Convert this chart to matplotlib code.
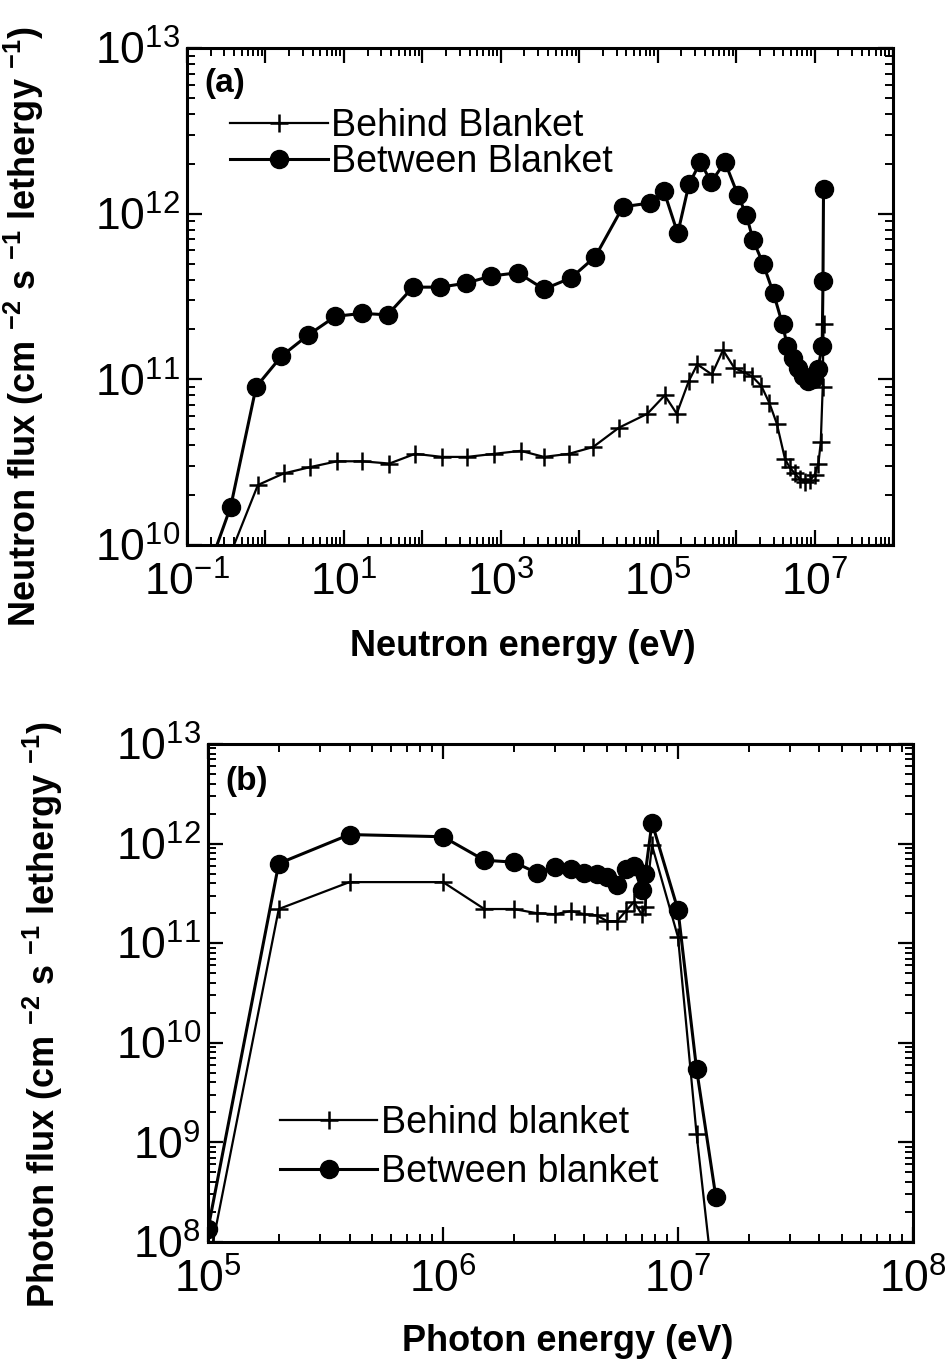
import matplotlib
matplotlib.use('Agg')
import matplotlib.pyplot as plt
from matplotlib.ticker import LogLocator, FixedLocator, FuncFormatter, NullFormatter
import numpy as np

# =========================
# data
# =========================
# (a) neutron spectrum
n_between_x = [0.17, 0.36, 0.76, 1.6, 3.5, 7.8, 17, 36, 76, 170, 355, 750, 1650,
               3550, 7900, 1.6e4, 3.6e4, 8e4, 1.2e5, 1.8e5, 2.5e5, 3.5e5, 4.8e5,
               7.2e5, 1.05e6, 1.35e6, 1.65e6, 2.2e6, 3.0e6, 3.9e6, 4.5e6, 5.3e6,
               6.1e6, 7.1e6, 8.2e6, 9.5e6, 1.1e7, 1.25e7, 1.28e7, 1.3e7]
n_between_y = [6.3e9, 1.7e10, 9.0e10, 1.38e11, 1.85e11, 2.4e11, 2.5e11, 2.45e11,
               3.6e11, 3.6e11, 3.8e11, 4.2e11, 4.4e11, 3.5e11, 4.1e11, 5.5e11,
               1.1e12, 1.16e12, 1.37e12, 7.6e11, 1.5e12, 2.05e12, 1.55e12, 2.05e12,
               1.3e12, 9.8e11, 6.9e11, 5.0e11, 3.3e11, 2.15e11, 1.58e11, 1.35e11,
               1.17e11, 1.04e11, 9.8e10, 1.0e11, 1.15e11, 1.58e11, 3.9e11, 1.4e12]

n_behind_x = [0.36, 0.8, 1.7, 3.7, 8.2, 17, 38, 81, 178, 372, 830, 1800, 3550,
              7400, 1.5e4, 3.2e4, 7.4e4, 1.23e5, 1.75e5, 2.5e5, 3.2e5, 4.9e5,
              6.8e5, 9.5e5, 1.27e6, 1.6e6, 2.1e6, 2.65e6, 3.3e6, 4.2e6, 4.8e6,
              5.6e6, 6.5e6, 7.6e6, 8.7e6, 1.0e7, 1.12e7, 1.2e7, 1.27e7, 1.3e7]
n_behind_y = [8.9e9, 2.3e10, 2.7e10, 2.95e10, 3.2e10, 3.2e10, 3.1e10, 3.55e10,
              3.4e10, 3.4e10, 3.55e10, 3.7e10, 3.4e10, 3.55e10, 3.9e10, 5.1e10,
              6.2e10, 8e10, 6.2e10, 9.8e10, 1.23e11, 1.07e11, 1.5e11, 1.17e11,
              1.1e11, 1.04e11, 9.1e10, 7.2e10, 5.4e10, 3.3e10, 2.95e10, 2.7e10,
              2.5e10, 2.4e10, 2.45e10, 2.65e10, 3.1e10, 4.2e10, 9e10, 2.15e11]

# (b) photon spectrum
p_between_x = [1e5, 2e5, 4e5, 1e6, 1.5e6, 2e6, 2.5e6, 3e6, 3.5e6, 4e6, 4.5e6,
               5e6, 5.5e6, 6e6, 6.5e6, 7e6, 7.25e6, 7.75e6, 1e7, 1.2e7, 1.45e7]
p_between_y = [1.35e8, 6.3e11, 1.23e12, 1.17e12, 6.8e11, 6.5e11, 5.1e11, 5.8e11,
               5.5e11, 5.1e11, 4.9e11, 4.6e11, 3.8e11, 5.5e11, 5.9e11, 3.4e11,
               4.9e11, 1.62e12, 2.15e11, 5.4e9, 2.8e8]

p_behind_x = [1.05e5, 2e5, 4e5, 1e6, 1.5e6, 2e6, 2.5e6, 3e6, 3.5e6, 4e6, 4.5e6,
              5e6, 5.5e6, 6e6, 6.5e6, 7e6, 7.25e6, 7.75e6, 1e7, 1.2e7, 1.45e7]
p_behind_y = [1.0e8, 2.2e11, 4.1e11, 4.1e11, 2.2e11, 2.2e11, 2.0e11, 1.95e11,
              2.1e11, 1.95e11, 1.9e11, 1.66e11, 1.66e11, 2.1e11, 2.6e11, 1.95e11,
              2.3e11, 9.6e11, 1.15e11, 1.2e9, 2.2e7]

# =========================
# style
# =========================
plt.rcParams['font.family'] = ['Liberation Sans', 'DejaVu Sans']
plt.rcParams['mathtext.default'] = 'regular'
plt.rcParams['axes.unicode_minus'] = False

TICK_FS = 32
LABEL_FS = 26
LEG_FS = 27


def pow_fmt(only_odd=False):
    def f(v, pos):
        e = int(round(np.log10(v)))
        if only_odd and e % 2 == 0:
            return ''
        return r'$10^{%d}$' % e
    return FuncFormatter(f)


def style_axes(ax):
    for s in ax.spines.values():
        s.set_linewidth(2.2)
    ax.tick_params(which='both', direction='in', top=True, right=True,
                   labelsize=TICK_FS)
    ax.tick_params(axis='x', pad=12)
    ax.tick_params(axis='y', pad=5)
    ax.tick_params(which='major', length=11, width=1.6)
    ax.tick_params(which='minor', length=5.5, width=1.4)


fig = plt.figure(figsize=(9.46, 13.6), dpi=100)

# ======================================================
# (a) neutron flux
# ======================================================
ax1 = fig.add_axes([0.1977, 0.5993, 0.7463, 0.3654])
ax1.plot(n_behind_x, n_behind_y, color='black', lw=1.6, marker='+',
         ms=13, mew=1.8, label='Behind Blanket')
ax1.plot(n_between_x, n_between_y, color='black', lw=2.2, marker='o',
         ms=13, label='Between Blanket')
ax1.set_xscale('log')
ax1.set_yscale('log')
ax1.set_xlim(1e-1, 1e8)
ax1.set_ylim(1e10, 1e13)
ax1.xaxis.set_major_locator(FixedLocator([10.0 ** e for e in range(-1, 9)]))
ax1.xaxis.set_major_formatter(pow_fmt(only_odd=True))
ax1.xaxis.set_minor_locator(LogLocator(base=10, subs=np.arange(2, 10), numticks=30))
ax1.xaxis.set_minor_formatter(NullFormatter())
ax1.yaxis.set_major_locator(FixedLocator([1e10, 1e11, 1e12, 1e13]))
ax1.yaxis.set_major_formatter(pow_fmt())
ax1.yaxis.set_minor_locator(LogLocator(base=10, subs=np.arange(2, 10), numticks=30))
ax1.yaxis.set_minor_formatter(NullFormatter())
style_axes(ax1)

ax1.set_xlabel('Neutron energy (eV)', fontsize=LABEL_FS, fontweight='bold')
ax1.set_ylabel(r'Neutron flux (cm $^{-2}$ s $^{-1}$ lethergy $^{-1}$)',
               fontsize=LABEL_FS, fontweight='bold')
ax1.xaxis.set_label_coords(0.475, -0.17)
ax1.yaxis.set_label_coords(-0.2, 0.44)
ax1.text(0.025, 0.96, '(a)', transform=ax1.transAxes, fontsize=24,
         fontweight='bold', va='top', ha='left')
ax1.legend(loc='upper left', bbox_to_anchor=(0.061, 0.88), frameon=False,
           fontsize=LEG_FS, handlelength=2.6, handletextpad=0.1,
           borderpad=0, borderaxespad=0, labelspacing=0.02)

# ======================================================
# (b) photon flux
# ======================================================
ax2 = fig.add_axes([0.2199, 0.0868, 0.7452, 0.3662])
ax2.plot(p_behind_x, p_behind_y, color='black', lw=1.6, marker='+',
         ms=13, mew=1.8, label='Behind blanket')
ax2.plot(p_between_x, p_between_y, color='black', lw=2.2, marker='o',
         ms=13, label='Between blanket')
ax2.set_xscale('log')
ax2.set_yscale('log')
ax2.set_xlim(1e5, 1e8)
ax2.set_ylim(1e8, 1e13)
ax2.xaxis.set_major_locator(FixedLocator([1e5, 1e6, 1e7, 1e8]))
ax2.xaxis.set_major_formatter(pow_fmt())
ax2.xaxis.set_minor_locator(LogLocator(base=10, subs=np.arange(2, 10), numticks=30))
ax2.xaxis.set_minor_formatter(NullFormatter())
ax2.yaxis.set_major_locator(FixedLocator([10.0 ** e for e in range(8, 14)]))
ax2.yaxis.set_major_formatter(pow_fmt())
ax2.yaxis.set_minor_locator(LogLocator(base=10, subs=np.arange(2, 10), numticks=30))
ax2.yaxis.set_minor_formatter(NullFormatter())
style_axes(ax2)

ax2.set_xlabel('Photon energy (eV)', fontsize=LABEL_FS, fontweight='bold')
ax2.set_ylabel(r'Photon flux (cm $^{-2}$ s $^{-1}$ lethergy $^{-1}$)',
               fontsize=LABEL_FS, fontweight='bold')
ax2.xaxis.set_label_coords(0.51, -0.165)
ax2.yaxis.set_label_coords(-0.203, 0.456)
ax2.text(0.025, 0.955, '(b)', transform=ax2.transAxes, fontsize=24,
         fontweight='bold', va='top', ha='left')
ax2.legend(loc='upper left', bbox_to_anchor=(0.102, 0.275), frameon=False,
           fontsize=LEG_FS, handlelength=2.6, handletextpad=0.1,
           borderpad=0, borderaxespad=0, labelspacing=0.35)

fig.savefig('out.png', dpi=100)
